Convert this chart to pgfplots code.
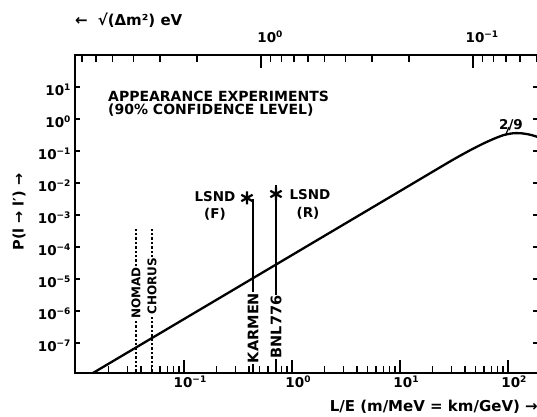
\documentclass[border=0pt]{standalone}
\usepackage{fontspec}
\setmainfont{DejaVu Sans}
\usepackage{pgfplots}
\pgfplotsset{compat=1.18}
\newcommand\fs[1]{\fontsize{#1}{#1}\selectfont\bfseries}
\newcommand\tl[1]{10\raisebox{5pt}{\fontsize{9}{9}\selectfont\bfseries #1}}
\begin{document}
\begin{tikzpicture}[x=1pt,y=1pt]
\pgfplotsset{common/.style={at={(75pt,43pt)}, anchor=south west, scale only axis,
  width=463pt, height=318pt, axis line style={line width=2.4pt},
  every tick/.style={line width=1.4pt, black}, tick align=inside}}
% --- y ticks (short) ---
\begin{axis}[common, ymode=log, ymin=1.148e-8, ymax=100, xmin=0, xmax=1,
  hide x axis, yminorticks=false, major tick length=5pt,
  ytick={1e-7,1e-6,1e-5,1e-4,1e-3,1e-2,1e-1,1,10},
  yticklabels={\tl{−7},\tl{−6},\tl{−5},\tl{−4},\tl{−3},\tl{−2},\tl{−1},\tl{0},\tl{1}},
  yticklabel style={font=\fs{13.5}, yshift=-3pt, xshift=-1pt}]
\addplot[draw=none] coordinates {(0.5,1e-3)};
\end{axis}
% --- main axis ---
\begin{axis}[common, xmode=log, ymode=log, xmin=0.00979, xmax=189.7,
  ymin=1.148e-8, ymax=100, ytick=\empty, xtick pos=left,
  major tick length=13pt, minor tick length=7pt,
  xtick={0.1,1,10,100},
  xticklabels={\tl{−1},\tl{0},\tl{1},\tl{2}},
  minor xtick={0.02,0.03,0.04,0.05,0.06,0.07,0.08,0.09,0.2,0.3,0.4,0.5,0.6,0.7,0.8,0.9,2,3,4,5,6,7,8,9,20,30,40,50,60,70,80,90},
  xticklabel style={font=\fs{13.5}, xshift=6pt, yshift=1pt}]
% theoretical curve
\addplot[line width=2.3pt, smooth, tension=0.4] coordinates {
 (0.01,5.57e-9) (0.1,5.57e-7) (1,5.57e-5) (10,5.57e-3) (30,0.0501) (45,0.107)
 (60,0.175) (75,0.245) (90,0.31) (105,0.348) (118,0.362) (135,0.355) (155,0.33) (185,0.28) (220,0.2)};
% NOMAD, CHORUS (dotted)
\addplot[line width=2.6pt, dash pattern=on 2.4pt off 2pt] coordinates {(0.0360,1e-9) (0.0360,3.93e-4)};
\addplot[line width=2.6pt, dash pattern=on 2.4pt off 2pt] coordinates {(0.0506,1e-9) (0.0506,3.93e-4)};
% KARMEN, BNL776 (solid)
\addplot[line width=2.7pt] coordinates {(0.4355,1e-9) (0.4355,3.16e-3)};
\addplot[line width=2.7pt] coordinates {(0.711,1e-9) (0.711,8.66e-3)};
% LSND points
\addplot[only marks, mark=asterisk, mark size=6.5pt, line width=2.2pt] coordinates {(0.383,3.4e-3) (0.711,4.53e-3)};
\end{axis}
% --- top axis ---
\begin{axis}[common, xmode=log, x dir=reverse, xmin=0.04934, xmax=7.54,
  ymin=0, ymax=1, axis x line*=top, hide y axis,
  major tick length=13pt, minor tick length=7pt,
  xtick={0.1,1}, xticklabels={\tl{−1},\tl{0}},
  minor xtick={0.05,0.06,0.07,0.08,0.09,0.2,0.3,0.4,0.5,0.6,0.7,0.8,0.9,2,3,4,5,6,7},
  xticklabel style={font=\fs{13.5}, xshift=9pt, yshift=9pt}]
\addplot[draw=none] coordinates {(1,0.5)};
\end{axis}
% --- text annotations ---
\node[anchor=north west, inner sep=0pt, align=left, font=\fontsize{14}{12.8}\selectfont\bfseries] at (108,325)
  {APPEARANCE EXPERIMENTS\\(90\% CONFIDENCE LEVEL)};
\node[font=\fs{13.5}, anchor=center] at (215,219.5) {LSND};
\node[font=\fs{13.5}, anchor=center] at (215,202) {(F)};
\node[font=\fs{13.5}, anchor=center] at (310,221) {LSND};
\node[font=\fs{13.5}, anchor=center] at (308,203) {(R)};
\node[font=\fs{14.5}, rotate=90, fill=white, inner sep=1pt] at (253,88) {KARMEN};
\node[font=\fs{14.5}, rotate=90, fill=white, inner sep=1pt] at (276,89) {BNL776};
\node[font=\fs{12}, rotate=90, fill=white, inner sep=1pt] at (136,123) {NOMAD};
\node[font=\fs{12}, rotate=90, fill=white, inner sep=1pt] at (152,130) {CHORUS};
\node[font=\fs{13.5}, anchor=center] at (511,291) {2/9};
\draw[line width=1.2pt] (506,282) -- (509,289);
\node[font=\fs{14.5}, rotate=90] at (19,204) {P(l → l′) →};
\node[font=\fs{15}, anchor=base east, inner sep=0pt] at (538,5) {L/E (m/MeV = km/GeV) →};
\node[font=\fs{15}, anchor=base west, inner sep=0pt] at (75,390) {←\hspace{10pt}√(Δm²) eV};
\pgfresetboundingbox
\path[use as bounding box] (0,0) rectangle (537,416);
\end{tikzpicture}
\end{document}
